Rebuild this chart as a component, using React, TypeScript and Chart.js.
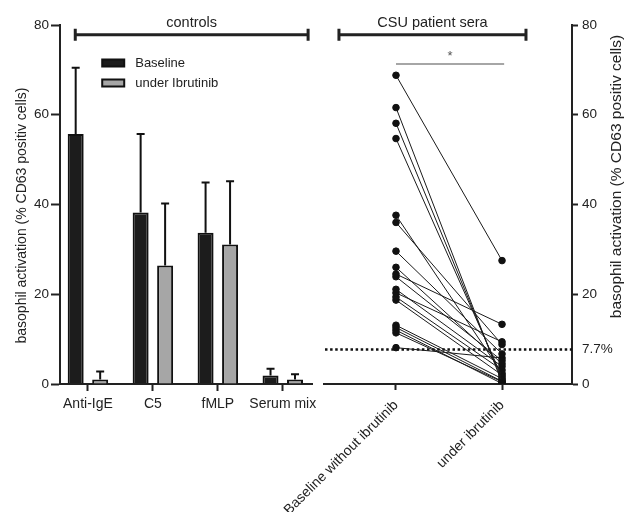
import React, { useEffect, useRef } from "react";
import { Chart, registerables } from "chart.js";

Chart.register(...registerables);

// ---------- data ----------
const categories = ["Anti-IgE", "C5", "fMLP", "Serum mix"];
const legendLabels = ["Baseline", "under Ibrutinib"];
const baselineMeans = [55.7, 38.2, 33.7, 1.9];
const baselineErr = [14.8, 17.5, 11.2, 1.5];
const ibrutinibMeans = [1.0, 26.4, 31.1, 1.0];
const ibrutinibErr = [1.8, 13.8, 14.1, 1.2];

const pairLabels = ["Baseline without ibrutinib", "under ibrutinib"];
const patientBaseline = [68.8, 61.6, 58.1, 54.7, 37.6, 36.0, 29.6, 26.0, 24.5, 23.9, 21.1, 20.3, 19.4, 18.7, 13.1, 12.6, 12.0, 11.4, 8.1];
const patientIbrutinib = [27.5, 0.3, 0.9, 1.6, 2.4, 8.8, 6.7, 4.5, 13.3, 5.2, 3.9, 9.4, 3.1, 2.0, 1.2, 0.6, 0.1, 0.5, 5.8];

const thresholdValue = 7.7;
const thresholdLabel = "7.7%";
const significanceMark = "*";
const groupLabels = ["controls", "CSU patient sera"];
const yTitle = "basophil activation (% CD63 positiv cells)";
const yTicks = [0, 20, 40, 60, 80];

// ---------- styles ----------
const FONT = "'Liberation Sans', Arial, Helvetica, sans-serif";
const AXIS = "#222222";
const TEXT = "#222222";

function drawBracket(ctx: CanvasRenderingContext2D, x1: number, x2: number, y: number, label: string) {
  ctx.save();
  ctx.strokeStyle = AXIS;
  ctx.lineWidth = 3;
  ctx.beginPath();
  ctx.moveTo(x1, y);
  ctx.lineTo(x2, y);
  ctx.moveTo(x1, y - 6);
  ctx.lineTo(x1, y + 6);
  ctx.moveTo(x2, y - 6);
  ctx.lineTo(x2, y + 6);
  ctx.stroke();
  ctx.fillStyle = TEXT;
  ctx.font = `14.5px ${FONT}`;
  ctx.textAlign = "center";
  ctx.textBaseline = "alphabetic";
  ctx.fillText(label, (x1 + x2) / 2, y - 8);
  ctx.restore();
}

function drawVerticalTitle(ctx: CanvasRenderingContext2D, x: number, y: number, text: string, size: number) {
  ctx.save();
  ctx.translate(x, y);
  ctx.rotate(-Math.PI / 2);
  ctx.fillStyle = TEXT;
  ctx.font = `${size}px ${FONT}`;
  ctx.textAlign = "center";
  ctx.textBaseline = "middle";
  ctx.fillText(text, 0, 0);
  ctx.restore();
}

const leftPlugin = {
  id: "leftExtras",
  afterDatasetsDraw(chart: any) {
    const ctx = chart.ctx;
    const yScale = chart.scales.y;
    const errs = [baselineErr, ibrutinibErr];
    chart.data.datasets.forEach((ds: any, di: number) => {
      const meta = chart.getDatasetMeta(di);
      meta.data.forEach((bar: any, i: number) => {
        const v = ds.data[i].y;
        const top = yScale.getPixelForValue(v + errs[di][i]);
        ctx.save();
        ctx.strokeStyle = "#111";
        ctx.lineWidth = 2;
        ctx.beginPath();
        ctx.moveTo(bar.x, bar.y);
        ctx.lineTo(bar.x, top);
        ctx.moveTo(bar.x - 4, top);
        ctx.lineTo(bar.x + 4, top);
        ctx.stroke();
        ctx.restore();
      });
    });
  },
  afterDraw(chart: any) {
    const ctx = chart.ctx;
    const x = chart.scales.x;
    const y = chart.scales.y;
    const area = chart.chartArea;
    drawBracket(ctx, x.getPixelForValue(-0.195), x.getPixelForValue(3.39), y.getPixelForValue(77.8), groupLabels[0]);
    const lx = x.getPixelForValue(0.22);
    chart.data.datasets.forEach((ds: any, i: number) => {
      const cy = area.top + 38 + i * 20;
      ctx.save();
      ctx.fillStyle = ds.backgroundColor;
      ctx.strokeStyle = "#111";
      ctx.lineWidth = 2;
      ctx.fillRect(lx, cy - 3.5, 22, 7);
      ctx.strokeRect(lx, cy - 3.5, 22, 7);
      ctx.fillStyle = TEXT;
      ctx.font = `13px ${FONT}`;
      ctx.textAlign = "left";
      ctx.textBaseline = "middle";
      ctx.fillText(ds.label, lx + 33, cy);
      ctx.restore();
    });
    drawVerticalTitle(ctx, 22, (area.top + area.bottom) / 2 + 11, yTitle, 14);
  },
};

const rightPlugin = {
  id: "rightExtras",
  beforeDatasetsDraw(chart: any) {
    const ctx = chart.ctx;
    const area = chart.chartArea;
    const yy = chart.scales.y.getPixelForValue(thresholdValue);
    ctx.save();
    ctx.strokeStyle = "#111";
    ctx.lineWidth = 2.5;
    ctx.setLineDash([2.5, 2.6]);
    ctx.beginPath();
    ctx.moveTo(area.left + 1, yy);
    ctx.lineTo(area.right, yy);
    ctx.stroke();
    ctx.restore();
  },
  afterDraw(chart: any) {
    const ctx = chart.ctx;
    const x = chart.scales.x;
    const y = chart.scales.y;
    const area = chart.chartArea;
    drawBracket(ctx, x.getPixelForValue(-0.538), x.getPixelForValue(1.226), y.getPixelForValue(77.8), groupLabels[1]);
    const sy = y.getPixelForValue(71.3);
    const sx1 = x.getPixelForValue(0);
    const sx2 = x.getPixelForValue(1.02);
    ctx.save();
    ctx.strokeStyle = "#888";
    ctx.lineWidth = 1.5;
    ctx.beginPath();
    ctx.moveTo(sx1, sy);
    ctx.lineTo(sx2, sy);
    ctx.stroke();
    ctx.fillStyle = "#555";
    ctx.font = `13px ${FONT}`;
    ctx.textAlign = "center";
    ctx.textBaseline = "alphabetic";
    ctx.fillText(significanceMark, (sx1 + sx2) / 2, sy - 4);
    ctx.restore();
    drawVerticalTitle(ctx, 617, (area.top + area.bottom) / 2 - 28, yTitle, 15.5);
  },
};

export default function App() {
  const leftRef = useRef<HTMLCanvasElement | null>(null);
  const rightRef = useRef<HTMLCanvasElement | null>(null);

  useEffect(() => {
    document.body.style.margin = "0";
    const tickFont = { family: FONT, size: 13.5 };
    const leftChart = new Chart(leftRef.current as HTMLCanvasElement, {
      type: "bar",
      data: {
        datasets: [
          {
            label: legendLabels[0],
            data: baselineMeans.map((v, i) => ({ x: i, y: v })),
            backgroundColor: "#1c1c1c",
            borderColor: "#111",
            borderWidth: 2,
            categoryPercentage: 0.754,
            barPercentage: 0.653,
          },
          {
            label: legendLabels[1],
            data: ibrutinibMeans.map((v, i) => ({ x: i, y: v })),
            backgroundColor: "#a6a6a6",
            borderColor: "#111",
            borderWidth: 2,
            categoryPercentage: 0.754,
            barPercentage: 0.653,
          },
        ],
      } as any,
      options: {
        animation: false,
        responsive: false,
        events: [],
        layout: { padding: { left: 0, top: 25, right: 312, bottom: 0 } },
        plugins: { legend: { display: false }, tooltip: { enabled: false } },
        scales: {
          x: {
            type: "linear",
            min: -0.43,
            max: 3.45,
            offset: false,
            grid: { drawOnChartArea: false, offset: false, tickLength: 7, tickWidth: 2, color: AXIS },
            border: { color: AXIS, width: 2 },
            ticks: {
              font: { family: FONT, size: 14 },
              color: TEXT,
              padding: 5,
              maxRotation: 0,
              minRotation: 0,
              autoSkip: false,
              callback: (v: any) => categories[Math.round(Number(v))] ?? "",
            },
            afterBuildTicks: (s: any) => {
              s.ticks = categories.map((_, i) => ({ value: i }));
            },
            afterFit: (s: any) => {
              s.height = 128;
            },
          },
          y: {
            min: 0,
            max: 80,
            grid: { drawOnChartArea: false, tickLength: 9, tickWidth: 2, color: AXIS },
            border: { color: AXIS, width: 2 },
            ticks: { font: tickFont, color: TEXT, padding: 2 },
            afterBuildTicks: (s: any) => {
              s.ticks = yTicks.map((v) => ({ value: v }));
            },
            afterFit: (s: any) => {
              s.width = 60;
            },
          },
        },
      } as any,
      plugins: [leftPlugin],
    });

    const pairDatasets = patientBaseline.map((b, i) => ({
      data: [
        { x: 0, y: b },
        { x: 1, y: patientIbrutinib[i] },
      ],
      borderColor: "#1a1a1a",
      borderWidth: 1,
      pointRadius: 3.3,
      pointBorderWidth: 1,
      pointBackgroundColor: "#111",
      pointBorderColor: "#111",
      fill: false,
      tension: 0,
    }));

    const rightChart = new Chart(rightRef.current as HTMLCanvasElement, {
      type: "line",
      data: { datasets: pairDatasets } as any,
      options: {
        animation: false,
        responsive: false,
        events: [],
        layout: { padding: { left: 324, top: 25, right: 0, bottom: 0 } },
        plugins: { legend: { display: false }, tooltip: { enabled: false } },
        scales: {
          x: {
            type: "linear",
            min: -0.679,
            max: 1.66,
            grid: { drawOnChartArea: false, tickLength: 6, tickWidth: 2, color: AXIS },
            border: { color: AXIS, width: 2 },
            ticks: {
              font: { family: FONT, size: 14 },
              color: TEXT,
              padding: 7,
              minRotation: 45,
              maxRotation: 45,
              autoSkip: false,
              callback: (v: any) => pairLabels[Math.round(Number(v))] ?? "",
            },
            afterBuildTicks: (s: any) => {
              s.ticks = pairLabels.map((_, i) => ({ value: i }));
            },
            afterFit: (s: any) => {
              s.height = 128;
            },
          },
          y: {
            position: "right",
            min: 0,
            max: 80,
            grid: {
              drawOnChartArea: false,
              tickLength: 6,
              tickWidth: 2,
              color: AXIS,
              tickColor: (c: any) => (c.tick && c.tick.value === thresholdValue ? "rgba(0,0,0,0)" : AXIS),
            },
            border: { color: AXIS, width: 2 },
            ticks: {
              font: tickFont,
              color: TEXT,
              padding: 4,
              callback: (v: any) => (Number(v) === thresholdValue ? thresholdLabel : String(v)),
            },
            afterBuildTicks: (s: any) => {
              s.ticks = [0, thresholdValue, ...yTicks.slice(1)].map((v) => ({ value: v }));
            },
            afterFit: (s: any) => {
              s.width = 52;
            },
          },
        },
      } as any,
      plugins: [rightPlugin],
    });

    return () => {
      leftChart.destroy();
      rightChart.destroy();
    };
  }, []);

  return (
    <div style={{ position: "relative", width: 624, height: 512, background: "#fff" }}>
      <canvas ref={leftRef} width={624} height={512} style={{ position: "absolute", left: 0, top: 0 }} />
      <canvas ref={rightRef} width={624} height={512} style={{ position: "absolute", left: 0, top: 0 }} />
    </div>
  );
}
